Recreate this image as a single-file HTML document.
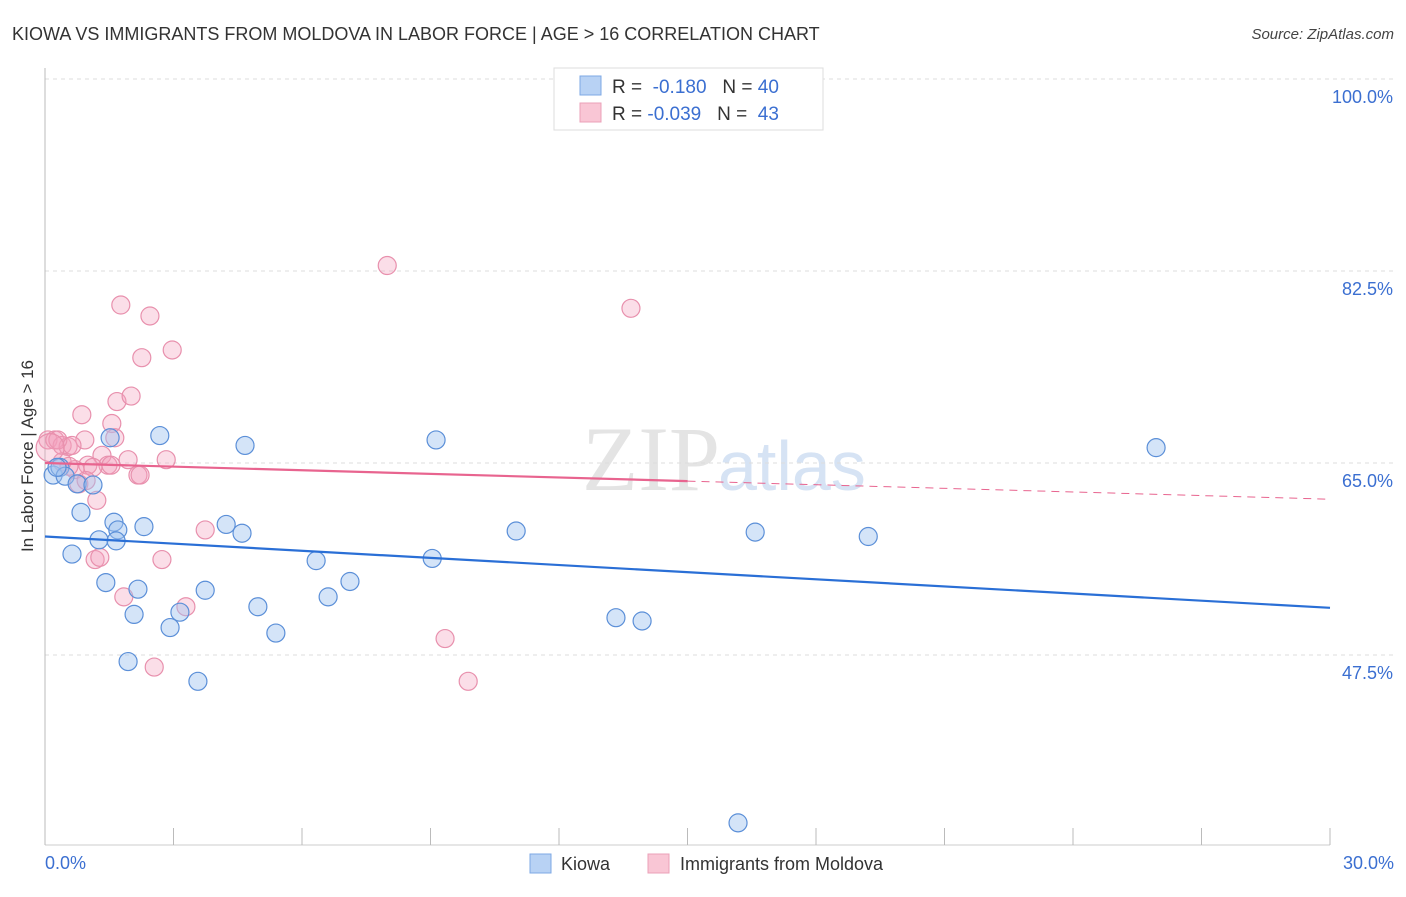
<!DOCTYPE html>
<html><head><meta charset="utf-8"><style>
body{margin:0;background:#fff;font-family:"Liberation Sans",sans-serif}
</style></head><body>
<svg width="1406" height="892" xmlns="http://www.w3.org/2000/svg" font-family="Liberation Sans, sans-serif">
<text x="12" y="40" font-size="18" fill="#333">KIOWA VS IMMIGRANTS FROM MOLDOVA IN LABOR FORCE | AGE &gt; 16 CORRELATION CHART</text>
<text x="1394" y="39" font-size="15" fill="#444" text-anchor="end" font-style="italic">Source: ZipAtlas.com</text>
<text x="720" y="490" font-size="92" fill="#e4e4e4" text-anchor="end" font-family="Liberation Serif, serif">ZIP</text>
<text x="718" y="490" font-size="70" fill="#d6e3f4">atlas</text>
<g id="grid"></g>
<line x1="45" y1="68" x2="45" y2="845" stroke="#bbb"/>
<line x1="45" y1="845" x2="1330" y2="845" stroke="#ccc"/>
<g id="ticks"></g>
<g id="pts"></g>
<g id="trend"></g>
<text transform="translate(33,456) rotate(-90)" font-size="17" fill="#333" text-anchor="middle">In Labor Force | Age &gt; 16</text>
<text x="45" y="869" font-size="18" fill="#3b6fd1">0.0%</text>
<text x="1394" y="869" font-size="18" fill="#3b6fd1" text-anchor="end">30.0%</text>
<g>
<rect x="554" y="68" width="269" height="62" fill="#fff" stroke="#ddd"/>
<rect x="580" y="76" width="21" height="19" fill="#b8d2f4" stroke="#7ea8e4"/>
<rect x="580" y="103" width="21" height="19" fill="#f9c6d5" stroke="#eba0b8"/>
<text x="612" y="93" font-size="19" fill="#333">R = <tspan fill="#3b6fd1">&#160;-0.180</tspan>&#160;&#160;&#160;N = <tspan fill="#3b6fd1">40</tspan></text>
<text x="612" y="120" font-size="19" fill="#333">R = <tspan fill="#3b6fd1">-0.039</tspan>&#160;&#160;&#160;N = <tspan fill="#3b6fd1">&#160;43</tspan></text>
</g>
<g>
<rect x="530" y="854" width="21" height="19" fill="#b8d2f4" stroke="#7ea8e4"/>
<text x="561" y="870" font-size="18" fill="#333">Kiowa</text></g>
<g>
<rect x="648" y="854" width="21" height="19" fill="#f9c6d5" stroke="#eba0b8"/>
<text x="680" y="870" font-size="18" fill="#333">Immigrants from Moldova</text></g>
</svg>
<script>
const yTicks=[100,82.5,65,47.5];
const yTickLabels=["100.0%","82.5%","65.0%","47.5%"];
const blueX=[0.19,0.35,0.47,0.75,1.12,0.84,1.52,2.68,1.61,1.70,2.31,1.26,0.63,1.42,2.17,2.08,1.94,2.92,3.15,3.57,3.74,4.23,4.60,4.67,4.97,5.39,6.33,6.61,7.12,9.04,9.13,11.0,13.33,13.94,16.18,16.58,19.22,25.94,1.66,0.28];
const blueY=[63.9,64.6,63.8,63.1,63.0,60.5,67.3,67.5,59.6,58.9,59.2,58.0,56.7,54.1,53.5,51.2,46.9,50.0,51.4,45.1,53.4,59.4,58.6,66.6,51.9,49.5,56.1,52.8,54.2,56.3,67.1,58.8,50.9,50.6,32.2,58.7,58.3,66.4,57.9,64.6];
const pinkX=[0.07,0.23,0.40,0.54,0.30,0.86,1.56,1.63,1.77,2.45,2.26,2.97,1.68,2.01,1.33,1.00,1.47,1.94,2.17,2.22,2.83,0.40,0.70,0.79,1.21,1.17,1.28,2.73,3.74,1.84,3.29,2.55,7.99,13.68,9.34,9.88,0.93,0.63,0.56,1.12,1.54,0.96,0.12];
const pinkY=[67.1,67.1,66.6,66.5,67.1,69.4,68.6,67.3,79.4,78.4,74.6,75.3,70.6,71.1,65.7,64.8,64.8,65.3,63.9,63.9,65.3,65.1,64.4,63.1,61.6,56.2,56.4,56.2,58.9,52.8,51.9,46.4,83.0,79.1,49.0,45.1,67.1,66.6,64.7,64.6,64.8,63.4,66.4];
const blueTrend=[58.3,51.8];
const pinkTrend=[65.0,61.7];
const pinkSolidEnd=15.0;
const sx=v=>45+v/30*1285;
const sy=v=>79+(100-v)/17.5*192;
const NS="http://www.w3.org/2000/svg";
function mk(p,t,a){const e=document.createElementNS(NS,t);for(const k in a)e.setAttribute(k,a[k]);p.appendChild(e);return e;}
const grid=document.getElementById('grid');
yTicks.forEach((t,i)=>{
 const l=mk(grid,'line',{x1:45,x2:1394,y1:sy(t),y2:sy(t),stroke:'#ddd','stroke-dasharray':'4,4'});
 
 
 const tx=mk(grid,'text',{x:1393,y:sy(t)+24,'font-size':18,fill:'#3b6fd1','text-anchor':'end'});
 tx.textContent=yTickLabels[i];
 
 
});
const ticks=document.getElementById('ticks');
for(let i=0;i<=10;i++){
 const l=mk(ticks,'line',{x1:sx(i*3),x2:sx(i*3),y1:828,y2:845,stroke:'#bbb'});
 
 
}
const pts=document.getElementById('pts');
pinkX.forEach((x,i)=>{
 const c=mk(pts,'circle',{cx:sx(x),cy:sy(pinkY[i]),r:i==pinkX.length-1?14:9,fill:'rgba(244,160,190,0.35)',stroke:'#e890ad','stroke-width':1.2});
 
 
});
blueX.forEach((x,i)=>{
 const c=mk(pts,'circle',{cx:sx(x),cy:sy(blueY[i]),r:9,fill:'rgba(160,196,240,0.45)',stroke:'#5b8fd8','stroke-width':1.2});
 
 
});
const tr=document.getElementById('trend');
const pY=x=>pinkTrend[0]+(pinkTrend[1]-pinkTrend[0])*x/30;
let l=mk(tr,'line',{x1:sx(0),y1:sy(blueTrend[0]),x2:sx(30),y2:sy(blueTrend[1]),stroke:'#2a6fd6','stroke-width':2.2});


l=mk(tr,'line',{x1:sx(0),y1:sy(pY(0)),x2:sx(pinkSolidEnd),y2:sy(pY(pinkSolidEnd)),stroke:'#e8648f','stroke-width':2.2});


l=mk(tr,'line',{x1:sx(pinkSolidEnd),y1:sy(pY(pinkSolidEnd)),x2:sx(30),y2:sy(pY(30)),stroke:'#e8648f','stroke-width':1,'stroke-dasharray':'8,6'});


</script>
</body></html>
